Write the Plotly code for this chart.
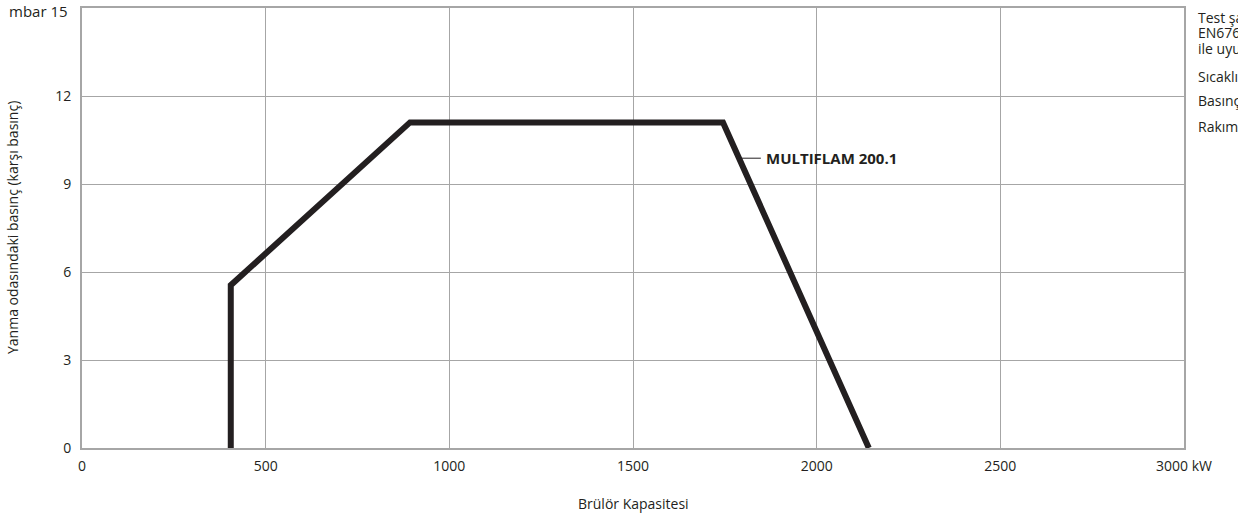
import plotly.graph_objects as go

# Data
capacity_kw = [405, 405, 893, 1745, 2142]
pressure_mbar = [0, 5.55, 11.1, 11.1, 0]
series_name = "MULTIFLAM 200.1"
x_ticks = [0, 500, 1000, 1500, 2000, 2500, 3000]
x_ticktext = ["0", "500", "1000", "1500", "2000", "2500", "3000 kW"]
y_ticks = [0, 3, 6, 9, 12, 15]
y_ticktext = ["0", "3", "6", "9", "12", ""]
y_top_label = "mbar 15"
side_notes = ["Test şartları", "EN676 standardı", "ile uyumludur", "Sıcaklık: 20°C", "Basınç: 1013 mbar", "Rakım: 100 m s.l.m."]

FONT = "Open Sans, Noto Sans, sans-serif"
TXT = "#231f20"
GRID = "#a6a6a6"

W, H = 1238, 517
L, R, T, B = 82, 54, 8, 69
PW, PH = W - L - R, H - T - B

def px_x(p):
    return (p - L) / PW

def px_y(p):
    return (H - B - p) / PH

fig = go.Figure()
fig.add_trace(go.Scatter(x=capacity_kw, y=pressure_mbar, mode="lines",
                         line=dict(color=TXT, width=6), line_shape="linear",
                         showlegend=False, hoverinfo="skip"))

# label with leader line
fig.add_shape(type="line", xref="x", yref="y", x0=1795, x1=1848, y0=9.88, y1=9.88,
              line=dict(color=TXT, width=1))
fig.add_annotation(x=1856, y=9.88, xref="x", yref="y", text="<b>" + series_name + "</b>",
                   showarrow=False, xanchor="left", yanchor="middle",
                   font=dict(family=FONT, size=15, color=TXT))

# top y label
fig.add_annotation(x=px_x(70), y=px_y(11), xref="paper", yref="paper", text=y_top_label,
                   showarrow=False, xanchor="right", yanchor="middle",
                   font=dict(family=FONT, size=15, color=TXT))

note_y = [18, 33, 48, 76, 101, 126]
for t, yp in zip(side_notes, note_y):
    fig.add_annotation(x=px_x(1196), y=px_y(yp), xref="paper", yref="paper", text=t,
                       showarrow=False, xanchor="left", yanchor="middle",
                       font=dict(family=FONT, size=14, color=TXT))

# axis titles
fig.add_annotation(x=px_x(633), y=px_y(503), xref="paper", yref="paper",
                   text="Brülör Kapasitesi", showarrow=False,
                   xanchor="center", yanchor="middle",
                   font=dict(family=FONT, size=14, color=TXT))
fig.add_annotation(x=px_x(12), y=px_y(228), xref="paper", yref="paper",
                   text="Yanma odasındaki basınç (karşı basınç)", showarrow=False,
                   textangle=-90, xanchor="center", yanchor="middle",
                   font=dict(family=FONT, size=14, color=TXT))

fig.update_layout(
    width=W, height=H,
    margin=dict(l=L, r=R, t=T, b=B, autoexpand=False),
    paper_bgcolor="white", plot_bgcolor="white",
    font=dict(family=FONT, size=14, color=TXT),
    hovermode=False,
    xaxis=dict(range=[0, 3000], tickvals=x_ticks, ticktext=x_ticktext,
               showgrid=True, gridcolor=GRID, gridwidth=1,
               showline=True, linecolor=GRID, linewidth=2, mirror=True,
               zeroline=False, ticks="", ticklabelstandoff=4,
               ticklabeloverflow="allow", automargin=False),
    yaxis=dict(range=[0, 15], tickvals=y_ticks, ticktext=y_ticktext,
               showgrid=True, gridcolor=GRID, gridwidth=1,
               showline=True, linecolor=GRID, linewidth=2, mirror=True,
               zeroline=False, ticks="", ticklabelstandoff=6,
               ticklabeloverflow="allow", automargin=False),
)

fig.write_html("out.html", config={"displayModeBar": False},
               post_script="document.body.style.margin='0';document.body.style.padding='0';")
